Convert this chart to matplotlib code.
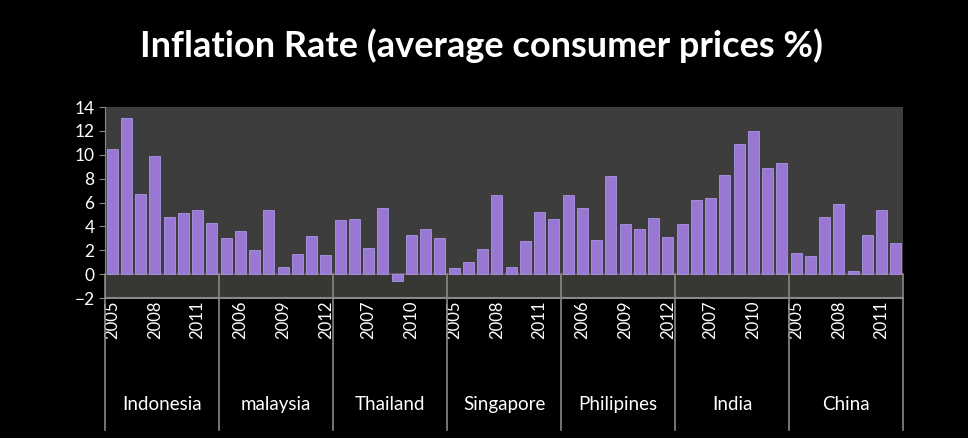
import numpy as np
import matplotlib.pyplot as plt
from matplotlib.transforms import blended_transform_factory

plt.rcParams['font.family'] = ['Lato', 'DejaVu Sans']

countries = ["Indonesia", "malaysia", "Thailand", "Singapore", "Philipines", "India", "China"]
years = list(range(2005, 2013))

indonesia = [10.5, 13.1, 6.7, 9.9, 4.8, 5.1, 5.4, 4.3]
malaysia = [3.0, 3.6, 2.0, 5.4, 0.6, 1.7, 3.2, 1.6]
thailand = [4.5, 4.6, 2.2, 5.5, -0.6, 3.3, 3.8, 3.0]
singapore = [0.5, 1.0, 2.1, 6.6, 0.6, 2.8, 5.2, 4.6]
philipines = [6.6, 5.5, 2.9, 8.2, 4.2, 3.8, 4.7, 3.1]
india = [4.2, 6.2, 6.4, 8.3, 10.9, 12.0, 8.9, 9.3]
china = [1.8, 1.5, 4.8, 5.9, 0.3, 3.3, 5.4, 2.6]

values = indonesia + malaysia + thailand + singapore + philipines + india + china
labels = [str(y) for c in countries for y in years]
n = len(values)
x = np.arange(n)

fig = plt.figure(figsize=(9.68, 4.38), dpi=100, facecolor='black')
ax = fig.add_axes([0.1085, 0.3196, 0.8244, 0.4361])
ax.set_facecolor('#3d3d3d')

# floor of the old 3d chart
ax.axhspan(-2, 0, color='#373734', zorder=0)
ax.axhline(0, color='#6a6a6a', lw=1.2, zorder=1)

ax.bar(x, values, width=0.78, color='#9878d2', edgecolor='#ad94e4', linewidth=0.6, zorder=2)

ax.set_xlim(-0.5, n - 0.5)
ax.set_ylim(-2, 14)
ax.set_yticks(range(-2, 15, 2))
ax.tick_params(axis='y', colors='#888888', labelcolor='white', labelsize=12.5, length=4, direction='out')

ticks = x[::3]
ax.set_xticks(ticks)
ax.set_xticklabels([labels[i] for i in ticks], rotation=90, color='white', fontsize=12)
ax.tick_params(axis='x', length=0, pad=2)

for s in ['top', 'right']:
    ax.spines[s].set_visible(False)
ax.spines['left'].set_color('#888888')
ax.spines['bottom'].set_color('#888888')
ax.spines['bottom'].set_linewidth(1.5)

# group separators and country names
trans = blended_transform_factory(ax.transData, ax.transAxes)
for k in range(len(countries) + 1):
    xb = k * 8 - 0.5
    ax.plot([xb, xb], [0.125, -0.69], transform=trans, color='#888888', lw=1.2, clip_on=False, zorder=3)
for k, name in enumerate(countries):
    ax.text(k * 8 + 3.5, -0.56, name, transform=trans, ha='center', va='center', color='white', fontsize=13.5)

fig.text(0.497, 0.895, "Inflation Rate (average consumer prices %)", ha='center', va='center',
         color='white', fontsize=26, fontweight='bold')

fig.savefig('out.png', dpi=100, facecolor='black')
